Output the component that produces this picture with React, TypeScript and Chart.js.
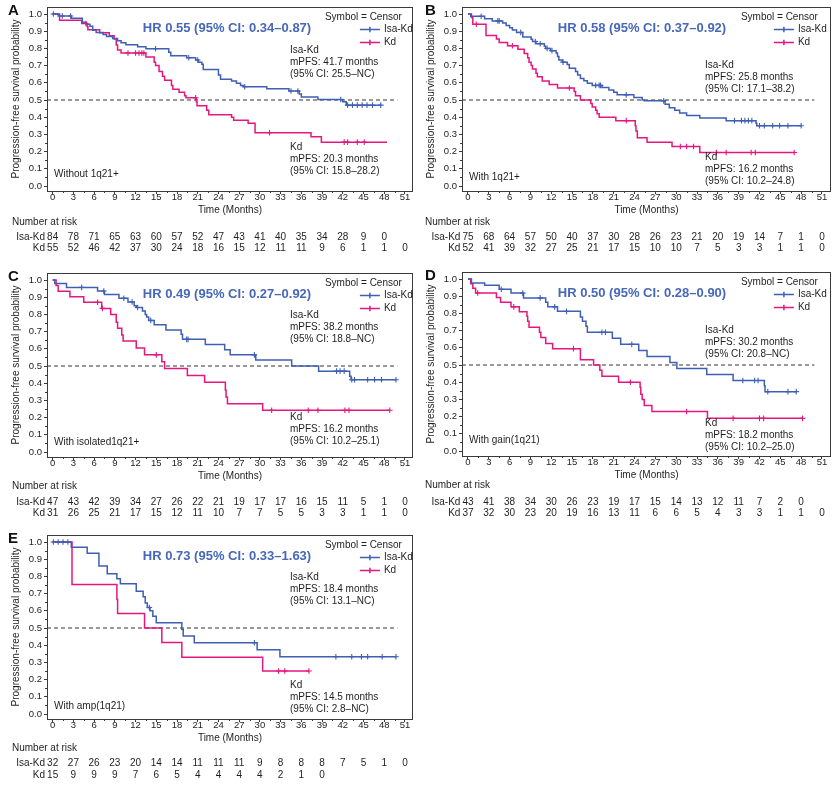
import React, { useEffect, useRef } from "react";
import { Chart, registerables } from "chart.js";

Chart.register(...registerables);

const FONT = '"Liberation Sans", Arial, Helvetica, sans-serif';
const BLUE = "#3f5fb4";
const PINK = "#e5177e";
const HR_BLUE = "#4767b9";
const INK = "#1e1e1e";
const AXIS = "#3a3a3a";

const X_TICKS = [0, 3, 6, 9, 12, 15, 18, 21, 24, 27, 30, 33, 36, 39, 42, 45, 48, 51];
const Y_TICKS = [0, 0.1, 0.2, 0.3, 0.4, 0.5, 0.6, 0.7, 0.8, 0.9, 1.0];
const REF_LINE_Y = 0.5;
const REF_LINE_END = 49.9;

// ---------- Panel A: Without 1q21+ ----------
const A_ISA_STEPS: [number, number][] = [
  [0, 1], [0.8, 0.988], [2.7, 0.976], [4.3, 0.952], [4.9, 0.94], [5.4, 0.929], [5.8, 0.905],
  [6.3, 0.893], [7.3, 0.881], [7.8, 0.869], [8.7, 0.857], [9.4, 0.845], [9.9, 0.833],
  [10.6, 0.821], [12.3, 0.81], [13.5, 0.798], [16.8, 0.778], [17.1, 0.758], [19.4, 0.746],
  [20.7, 0.733], [21.1, 0.72], [21.6, 0.708], [21.8, 0.678], [24.0, 0.645], [24.3, 0.62],
  [25.9, 0.61], [26.6, 0.598], [27.2, 0.585], [27.6, 0.577], [31.0, 0.565], [34.2, 0.552],
  [35.7, 0.535], [36.0, 0.518], [38.4, 0.503], [42.0, 0.49], [42.5, 0.47], [47.5, 0.47],
];
const A_ISA_CENSOR = [0.1, 1.4, 2.6, 14.9, 19.7, 21.0, 27.8, 34.5, 35.5, 41.7, 42.7, 43.4, 44.1, 44.8, 45.5, 46.3, 47.5];
const A_KD_STEPS: [number, number][] = [
  [0, 1], [1.0, 0.964], [4.2, 0.945], [5.0, 0.927], [5.1, 0.909], [6.8, 0.891], [8.2, 0.873],
  [8.9, 0.855], [9.2, 0.82], [9.4, 0.79], [9.9, 0.773], [13.5, 0.75], [14.7, 0.72], [14.9, 0.70],
  [15.4, 0.665], [15.9, 0.638], [16.2, 0.615], [17.2, 0.585], [17.4, 0.562], [18.3, 0.545],
  [19.1, 0.525], [19.3, 0.513], [20.8, 0.49], [20.9, 0.466], [22.3, 0.44], [22.6, 0.415],
  [25.9, 0.40], [26.2, 0.383], [28.3, 0.365], [29.3, 0.31], [37.4, 0.287], [38.9, 0.255], [48.4, 0.255],
];
const A_KD_CENSOR = [4.8, 10.9, 12.0, 12.5, 12.9, 13.2, 20.7, 31.4, 42.2, 42.7, 44.1, 45.1];
const A_ISA_RISK = [84, 78, 71, 65, 63, 60, 57, 52, 47, 43, 41, 40, 35, 34, 28, 9, 0];
const A_KD_RISK = [55, 52, 46, 42, 37, 30, 24, 18, 16, 15, 12, 11, 11, 9, 6, 1, 1, 0];

// ---------- Panel B: With 1q21+ ----------
const B_ISA_STEPS: [number, number][] = [
  [0, 1], [0.4, 0.987], [2.4, 0.973], [3.5, 0.96], [5.0, 0.947], [5.5, 0.933], [6.0, 0.92],
  [6.4, 0.907], [7.0, 0.893], [7.9, 0.867], [9.1, 0.853], [9.3, 0.84], [9.8, 0.827], [11.0, 0.813],
  [11.2, 0.80], [11.9, 0.787], [12.7, 0.773], [12.9, 0.753], [13.1, 0.733], [13.6, 0.72],
  [14.3, 0.706], [14.6, 0.685], [15.5, 0.665], [15.8, 0.645], [16.2, 0.625], [16.7, 0.612],
  [17.2, 0.598], [17.9, 0.585], [19.3, 0.572], [20.3, 0.558], [21.0, 0.545], [21.5, 0.53],
  [23.9, 0.515], [25.1, 0.5], [25.4, 0.495], [28.4, 0.475], [29.0, 0.455], [29.8, 0.44],
  [30.5, 0.425], [31.5, 0.41], [33.4, 0.395], [37.2, 0.38], [41.5, 0.365], [41.6, 0.35], [48.0, 0.35],
];
const B_ISA_CENSOR = [1.9, 4.3, 4.5, 7.6, 9.7, 10.4, 11.4, 12.1, 13.7, 18.4, 18.9, 19.1, 22.8, 28.2, 38.4, 39.4, 39.9, 40.4, 40.9, 42.0, 42.7, 43.9, 44.9, 46.1, 48.0];
const B_KD_STEPS: [number, number][] = [
  [0, 1], [0.5, 0.98], [0.7, 0.94], [2.6, 0.875], [4.1, 0.855], [4.5, 0.835], [5.7, 0.815],
  [7.2, 0.795], [8.1, 0.77], [8.6, 0.745], [8.8, 0.72], [9.1, 0.70], [9.3, 0.68], [9.8, 0.655],
  [10.0, 0.635], [10.7, 0.61], [11.7, 0.59], [12.9, 0.57], [15.3, 0.55], [15.5, 0.525],
  [16.2, 0.50], [17.7, 0.48], [17.9, 0.46], [18.4, 0.44], [18.6, 0.42], [18.9, 0.40],
  [21.3, 0.38], [24.1, 0.35], [24.2, 0.32], [24.4, 0.28], [25.8, 0.255], [29.4, 0.23],
  [33.4, 0.195], [47.0, 0.195],
];
const B_KD_CENSOR = [1.2, 6.4, 14.6, 22.8, 30.6, 31.5, 32.5, 35.8, 37.2, 40.8, 41.4, 47.0];
const B_ISA_RISK = [75, 68, 64, 57, 50, 40, 37, 30, 28, 26, 23, 21, 20, 19, 14, 7, 1, 0];
const B_KD_RISK = [52, 41, 39, 32, 27, 25, 21, 17, 15, 10, 10, 7, 5, 3, 3, 1, 1, 0];

// ---------- Panel C: With isolated 1q21+ ----------
const C_ISA_STEPS: [number, number][] = [
  [0, 1], [0.3, 0.979], [2.0, 0.957], [6.5, 0.936], [7.5, 0.915], [9.6, 0.894], [10.9, 0.872],
  [11.8, 0.851], [12.1, 0.84], [13.0, 0.82], [13.4, 0.80], [13.6, 0.785], [13.9, 0.765],
  [14.7, 0.74], [16.4, 0.71], [18.6, 0.685], [18.8, 0.655], [22.1, 0.625], [24.9, 0.595],
  [25.7, 0.565], [29.4, 0.535], [34.6, 0.50], [38.5, 0.47], [43.0, 0.44], [43.2, 0.42], [49.7, 0.42],
];
const C_ISA_CENSOR = [4.2, 7.4, 10.3, 11.5, 12.3, 14.2, 19.4, 19.6, 29.2, 41.1, 41.6, 42.2, 43.3, 43.7, 45.6, 46.6, 47.6, 49.7];
const C_KD_STEPS: [number, number][] = [
  [0, 1], [0.5, 0.968], [0.8, 0.935], [2.5, 0.903], [4.5, 0.871], [7.1, 0.835], [8.4, 0.80],
  [9.2, 0.755], [9.4, 0.72], [10.0, 0.68], [10.2, 0.645], [12.1, 0.605], [13.3, 0.565],
  [15.8, 0.525], [16.2, 0.485], [19.5, 0.445], [22.0, 0.405], [25.0, 0.36], [25.1, 0.32],
  [25.3, 0.28], [30.4, 0.243], [48.8, 0.243],
];
const C_KD_CENSOR = [6.5, 7.2, 15.0, 31.7, 37.0, 38.4, 42.3, 42.9, 48.8];
const C_ISA_RISK = [47, 43, 42, 39, 34, 27, 26, 22, 21, 19, 17, 17, 16, 15, 11, 5, 1, 0];
const C_KD_RISK = [31, 26, 25, 21, 17, 15, 12, 11, 10, 7, 7, 5, 5, 3, 3, 1, 1, 0];

// ---------- Panel D: With gain(1q21) ----------
const D_ISA_STEPS: [number, number][] = [
  [0, 1], [0.5, 0.977], [2.4, 0.963], [4.5, 0.94], [6.2, 0.918], [8.0, 0.89], [11.2, 0.865],
  [11.5, 0.838], [12.9, 0.812], [16.2, 0.779], [16.5, 0.755], [17.0, 0.725], [17.2, 0.69],
  [20.8, 0.655], [22.0, 0.62], [24.6, 0.585], [25.8, 0.55], [29.1, 0.515], [30.1, 0.48],
  [34.4, 0.445], [38.2, 0.41], [42.7, 0.38], [42.8, 0.345], [47.3, 0.345],
];
const D_ISA_CENSOR = [4.8, 7.9, 10.4, 12.5, 14.2, 19.3, 19.8, 23.6, 39.6, 41.3, 41.8, 43.2, 46.1, 47.3];
const D_KD_STEPS: [number, number][] = [
  [0, 1], [0.4, 0.973], [0.7, 0.946], [1.1, 0.919], [4.1, 0.892], [4.7, 0.865], [6.2, 0.838],
  [7.4, 0.81], [8.5, 0.783], [8.6, 0.755], [8.8, 0.72], [10.3, 0.69], [10.5, 0.66], [11.2, 0.625],
  [12.2, 0.595], [16.2, 0.53], [18.1, 0.50], [19.0, 0.47], [19.3, 0.435], [21.7, 0.40],
  [24.8, 0.37], [24.9, 0.33], [25.1, 0.30], [25.4, 0.265], [26.5, 0.23], [34.5, 0.19], [48.2, 0.19],
];
const D_KD_CENSOR = [1.4, 6.6, 15.2, 23.4, 31.5, 38.2, 42.0, 42.6, 48.2];
const D_ISA_RISK = [43, 41, 38, 34, 30, 26, 23, 19, 17, 15, 14, 13, 12, 11, 7, 2, 0];
const D_KD_RISK = [37, 32, 30, 23, 20, 19, 16, 13, 11, 6, 6, 5, 4, 3, 3, 1, 1, 0];

// ---------- Panel E: With amp(1q21) ----------
const E_ISA_STEPS: [number, number][] = [
  [0, 1], [2.7, 0.969], [5.0, 0.935], [6.7, 0.86], [7.9, 0.815], [9.3, 0.786], [9.8, 0.757],
  [12.1, 0.714], [13.1, 0.681], [13.4, 0.646], [13.7, 0.619], [14.1, 0.6], [14.5, 0.568],
  [15.0, 0.531], [18.7, 0.492], [18.9, 0.453], [20.5, 0.414], [29.6, 0.374], [32.9, 0.333], [49.7, 0.333],
];
const E_ISA_CENSOR = [0.1, 0.8, 1.5, 2.2, 14.0, 29.2, 41.0, 43.3, 44.7, 45.6, 47.7, 49.7];
const E_KD_STEPS: [number, number][] = [
  [0, 1], [2.8, 0.753], [9.3, 0.665], [9.4, 0.584], [13.3, 0.5], [15.8, 0.416], [18.7, 0.33],
  [30.4, 0.25], [37.1, 0.25],
];
const E_KD_CENSOR = [32.7, 33.6, 37.1];
const E_ISA_RISK = [32, 27, 26, 23, 20, 14, 14, 11, 11, 11, 9, 8, 8, 8, 7, 5, 1, 0];
const E_KD_RISK = [15, 9, 9, 9, 7, 6, 5, 4, 4, 4, 4, 2, 1, 0];

type Steps = [number, number][];

type PanelCfg = {
  letter: string;
  left: number;
  top: number;
  height: number;
  areaLeft: number;
  areaRight: number;
  xMin: number;
  xMax: number;
  letterX: number;
  yTitlePad: number;
  legShift: number;
  narX: number;
  narY: [number, number, number];
  hr: string;
  sub: string;
  subY: number;
  isaLines: string[];
  kdLines: string[];
  isaY: number;
  kdY: number;
  isa: Steps;
  isaCensor: number[];
  kd: Steps;
  kdCensor: number[];
  isaRisk: number[];
  kdRisk: number[];
};

const AREA_TOP = 7;
const AREA_BOTTOM = 191;
const X_AXIS_H = 25;
const Y_MAX = 1.0407;
const Y_MIN = -0.029;
const CANVAS_W = 418;

const LEFT_GEOM = { areaLeft: 47, areaRight: 416, xMin: -0.82, xMax: 52.15, letterX: 8, yTitlePad: 10, legShift: 0, narX: 12 };
const RIGHT_GEOM = { areaLeft: 44, areaRight: 415, xMin: -0.86, xMax: 52.29, letterX: 7, yTitlePad: 7, legShift: -4, narX: 7 };

const PANELS: PanelCfg[] = [
  {
    letter: "A", left: 0, top: 0, height: 262, ...LEFT_GEOM, narY: [222, 237, 248],
    hr: "HR 0.55 (95% CI: 0.34–0.87)", sub: "Without 1q21+", subY: 174,
    isaLines: ["Isa-Kd", "mPFS: 41.7 months", "(95% CI: 25.5–NC)"],
    kdLines: ["Kd", "mPFS: 20.3 months", "(95% CI: 15.8–28.2)"], isaY: 50, kdY: 147,
    isa: A_ISA_STEPS, isaCensor: A_ISA_CENSOR, kd: A_KD_STEPS, kdCensor: A_KD_CENSOR,
    isaRisk: A_ISA_RISK, kdRisk: A_KD_RISK,
  },
  {
    letter: "B", left: 418, top: 0, height: 262, ...RIGHT_GEOM, narY: [222, 237, 248],
    hr: "HR 0.58 (95% CI: 0.37–0.92)", sub: "With 1q21+", subY: 177,
    isaLines: ["Isa-Kd", "mPFS: 25.8 months", "(95% CI: 17.1–38.2)"],
    kdLines: ["Kd", "mPFS: 16.2 months", "(95% CI: 10.2–24.8)"], isaY: 65, kdY: 157,
    isa: B_ISA_STEPS, isaCensor: B_ISA_CENSOR, kd: B_KD_STEPS, kdCensor: B_KD_CENSOR,
    isaRisk: B_ISA_RISK, kdRisk: B_KD_RISK,
  },
  {
    letter: "C", left: 0, top: 266, height: 262, ...LEFT_GEOM, narY: [220, 236, 247],
    hr: "HR 0.49 (95% CI: 0.27–0.92)", sub: "With isolated1q21+", subY: 176,
    isaLines: ["Isa-Kd", "mPFS: 38.2 months", "(95% CI: 18.8–NC)"],
    kdLines: ["Kd", "mPFS: 16.2 months", "(95% CI: 10.2–25.1)"], isaY: 49, kdY: 151,
    isa: C_ISA_STEPS, isaCensor: C_ISA_CENSOR, kd: C_KD_STEPS, kdCensor: C_KD_CENSOR,
    isaRisk: C_ISA_RISK, kdRisk: C_KD_RISK,
  },
  {
    letter: "D", left: 418, top: 265, height: 262, ...RIGHT_GEOM, narY: [220, 237, 248],
    hr: "HR 0.50 (95% CI: 0.28–0.90)", sub: "With gain(1q21)", subY: 175,
    isaLines: ["Isa-Kd", "mPFS: 30.2 months", "(95% CI: 20.8–NC)"],
    kdLines: ["Kd", "mPFS: 18.2 months", "(95% CI: 10.2–25.0)"], isaY: 65, kdY: 158,
    isa: D_ISA_STEPS, isaCensor: D_ISA_CENSOR, kd: D_KD_STEPS, kdCensor: D_KD_CENSOR,
    isaRisk: D_ISA_RISK, kdRisk: D_KD_RISK,
  },
  {
    letter: "E", left: 0, top: 528, height: 257, ...LEFT_GEOM, narY: [220, 235, 247],
    hr: "HR 0.73 (95% CI: 0.33–1.63)", sub: "With amp(1q21)", subY: 178,
    isaLines: ["Isa-Kd", "mPFS: 18.4 months", "(95% CI: 13.1–NC)"],
    kdLines: ["Kd", "mPFS: 14.5 months", "(95% CI: 2.8–NC)"], isaY: 49, kdY: 157,
    isa: E_ISA_STEPS, isaCensor: E_ISA_CENSOR, kd: E_KD_STEPS, kdCensor: E_KD_CENSOR,
    isaRisk: E_ISA_RISK, kdRisk: E_KD_RISK,
  },
];

function survAt(steps: Steps, t: number): number {
  let s = steps[0][1];
  for (const [x, y] of steps) {
    if (x <= t) s = y;
  }
  return s;
}

function lineDs(label: string, steps: Steps, color: string) {
  return {
    label,
    data: steps.map(([x, y]) => ({ x, y })),
    borderColor: color,
    backgroundColor: color,
    borderWidth: 1.5,
    stepped: true as const,
    pointRadius: 0,
    fill: false,
  };
}

function censorDs(label: string, times: number[], steps: Steps, color: string) {
  return {
    label,
    data: times.map((t) => ({ x: t, y: survAt(steps, t) })),
    showLine: false,
    pointStyle: "cross" as const,
    pointRadius: 2.8,
    pointBorderWidth: 1.1,
    borderColor: color,
    backgroundColor: color,
  };
}

function decorPlugin(p: PanelCfg) {
  return {
    id: "decor" + p.letter,
    afterDraw(chart: any) {
      const { ctx, chartArea: a, scales } = chart;
      const xs = scales.x;
      const ys = scales.y;
      ctx.save();
      // frame
      ctx.strokeStyle = AXIS;
      ctx.lineWidth = 1;
      ctx.strokeRect(Math.round(a.left) + 0.5, Math.round(a.top) + 0.5, Math.round(a.right - a.left) - 1, Math.round(a.bottom - a.top));
      // minor ticks
      ctx.beginPath();
      for (let i = 0; i < X_TICKS.length - 1; i++) {
        const v = (X_TICKS[i] + X_TICKS[i + 1]) / 2;
        const px = Math.round(xs.getPixelForValue(v)) + 0.5;
        ctx.moveTo(px, a.bottom);
        ctx.lineTo(px, a.bottom + 2);
      }
      for (let i = 0; i < Y_TICKS.length - 1; i++) {
        const v = (Y_TICKS[i] + Y_TICKS[i + 1]) / 2;
        const py = Math.round(ys.getPixelForValue(v)) + 0.5;
        ctx.moveTo(a.left - 2, py);
        ctx.lineTo(a.left, py);
      }
      ctx.stroke();

      ctx.textBaseline = "middle";
      // panel letter
      ctx.fillStyle = "#111";
      ctx.textAlign = "left";
      ctx.font = `bold 15px ${FONT}`;
      ctx.fillText(p.letter, p.letterX, 11);

      // HR
      ctx.fillStyle = HR_BLUE;
      ctx.textAlign = "center";
      ctx.font = `bold 13px ${FONT}`;
      ctx.fillText(p.hr, a.left + 180, a.top + 21);

      // legend
      ctx.font = `10px ${FONT}`;
      ctx.fillStyle = INK;
      ctx.textAlign = "left";
      ctx.fillText("Symbol = Censor", a.right - 88 + p.legShift / 2, a.top + 10);
      const items: [string, string, number][] = [["Isa-Kd", BLUE, 22], ["Kd", PINK, 35]];
      for (const [name, col, dy] of items) {
        const y = a.top + dy + 0.5;
        const x0 = a.right - 53 + p.legShift;
        const x1 = a.right - 33 + p.legShift;
        ctx.strokeStyle = col;
        ctx.lineWidth = 1.5;
        ctx.beginPath();
        ctx.moveTo(x0, y);
        ctx.lineTo(x1, y);
        const mx = (x0 + x1) / 2;
        ctx.moveTo(mx, y - 2.8);
        ctx.lineTo(mx, y + 2.8);
        ctx.stroke();
        ctx.fillStyle = INK;
        ctx.fillText(name, a.right - 29 + p.legShift, y);
      }

      // median annotations
      ctx.fillStyle = INK;
      p.isaLines.forEach((t, i) => ctx.fillText(t, a.left + 243, p.isaY + i * 12));
      p.kdLines.forEach((t, i) => ctx.fillText(t, a.left + 243, p.kdY + i * 12));

      // subgroup label
      ctx.fillText(p.sub, a.left + 7, p.subY);

      // number at risk
      ctx.fillText("Number at risk", p.narX, p.narY[0]);
      const rows: [string, number[], number][] = [["Isa-Kd", p.isaRisk, p.narY[1]], ["Kd", p.kdRisk, p.narY[2]]];
      for (const [name, vals, y] of rows) {
        ctx.textAlign = "center";
        vals.forEach((v, i) => {
          ctx.fillText(String(v), xs.getPixelForValue(X_TICKS[i]), y);
        });
        const w0 = ctx.measureText(String(vals[0])).width;
        ctx.textAlign = "right";
        ctx.fillText(name, xs.getPixelForValue(X_TICKS[0]) - w0 / 2 - 2, y);
      }
      ctx.restore();
    },
  };
}

function KMPanel({ p }: { p: PanelCfg }) {
  const ref = useRef<HTMLCanvasElement | null>(null);
  useEffect(() => {
    if (!ref.current) return;
    const tickFont = { family: FONT, size: 9.5, lineHeight: 1 };
    const titleFont = { family: FONT, size: 10, lineHeight: 1.2 };
    const chart = new Chart(ref.current, {
      type: "line",
      data: {
        datasets: [
          censorDs("Isa-Kd censor", p.isaCensor, p.isa, BLUE),
          censorDs("Kd censor", p.kdCensor, p.kd, PINK),
          lineDs("Isa-Kd", p.isa, BLUE),
          lineDs("Kd", p.kd, PINK),
          {
            label: "ref",
            data: [{ x: p.xMin, y: REF_LINE_Y }, { x: REF_LINE_END, y: REF_LINE_Y }],
            borderColor: "#333",
            borderWidth: 1,
            borderDash: [4, 3],
            pointRadius: 0,
            fill: false,
          },
        ] as any,
      },
      options: {
        responsive: false,
        animation: false,
        events: [],
        plugins: { legend: { display: false }, tooltip: { enabled: false } },
        layout: {
          padding: {
            left: 0,
            top: AREA_TOP,
            right: CANVAS_W - p.areaRight,
            bottom: p.height - AREA_BOTTOM - X_AXIS_H,
          },
        },
        scales: {
          x: {
            type: "linear",
            min: p.xMin,
            max: p.xMax,
            afterBuildTicks: (s: any) => {
              s.ticks = X_TICKS.map((v) => ({ value: v }));
            },
            afterFit: (s: any) => {
              s.height = X_AXIS_H;
            },
            grid: { drawOnChartArea: false, drawTicks: true, tickLength: 3, tickColor: AXIS, tickWidth: 1 },
            border: { display: true, color: AXIS, width: 1 },
            ticks: {
              font: tickFont,
              color: INK,
              padding: -1,
              maxRotation: 0,
              autoSkip: false,
              callback: (v: any) => String(v),
            },
            title: { display: true, text: "Time (Months)", font: titleFont, color: INK, padding: { top: 0, bottom: 0 } },
          },
          y: {
            type: "linear",
            min: Y_MIN,
            max: Y_MAX,
            afterBuildTicks: (s: any) => {
              s.ticks = Y_TICKS.map((v) => ({ value: v }));
            },
            afterFit: (s: any) => {
              s.width = p.areaLeft;
            },
            grid: { drawOnChartArea: false, drawTicks: true, tickLength: 3, tickColor: AXIS, tickWidth: 1 },
            border: { display: true, color: AXIS, width: 1 },
            ticks: {
              font: tickFont,
              color: INK,
              padding: 2,
              autoSkip: false,
              callback: (v: any) => Number(v).toFixed(1),
            },
            title: {
              display: true,
              text: "Progression-free survival probability",
              font: titleFont,
              color: INK,
              padding: { top: p.yTitlePad, bottom: 0 },
            },
          },
        },
      } as any,
      plugins: [decorPlugin(p)],
    });
    return () => chart.destroy();
  }, [p]);
  return (
    <canvas
      ref={ref}
      width={CANVAS_W}
      height={p.height}
      style={{ position: "absolute", left: p.left, top: p.top, width: CANVAS_W, height: p.height, display: "block" }}
    />
  );
}

export default function App() {
  return (
    <div style={{ position: "fixed", left: 0, top: 0, width: 836, height: 785, background: "#fff", overflow: "hidden" }}>
      {PANELS.map((p) => (
        <KMPanel key={p.letter} p={p} />
      ))}
    </div>
  );
}
